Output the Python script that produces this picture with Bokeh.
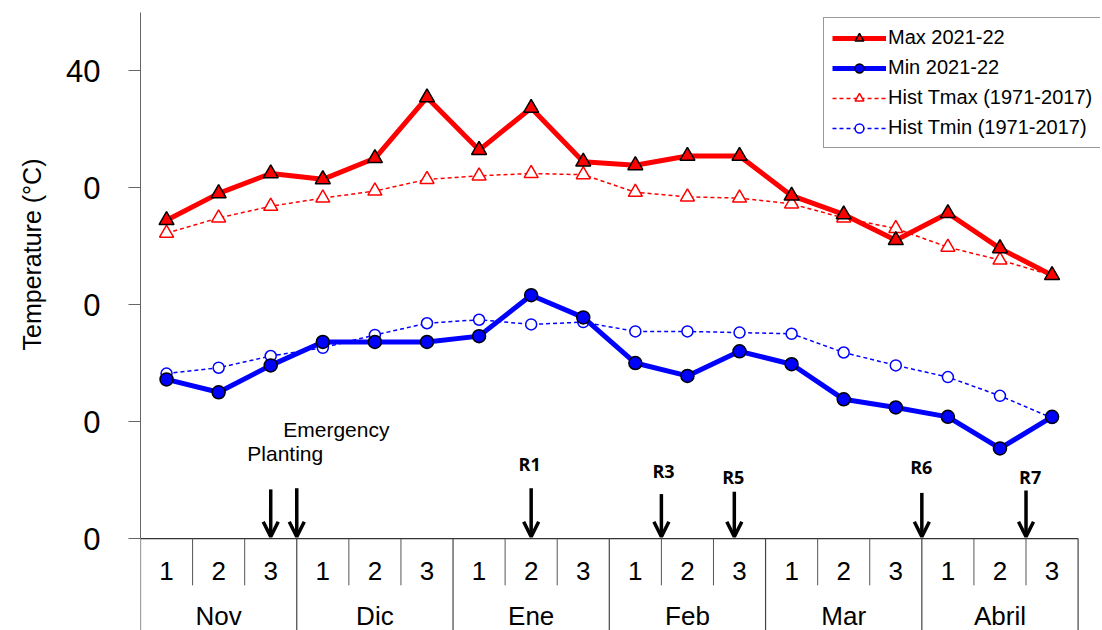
from bokeh.plotting import figure
from bokeh.models import (Range1d, FixedTicker, Arrow, OpenHead, Legend, LegendItem,
                          Label, ColumnDataSource, Title)
from bokeh.core.properties import value
from bokeh.embed import file_html
from bokeh.resources import INLINE

# ---------------- data ----------------
months = ["Nov", "Dic", "Ene", "Feb", "Mar", "Abril"]
decades = ["1", "2", "3"]

max_2122 = [27.2, 29.5, 31.2, 30.7, 32.5, 37.7, 33.2, 36.8, 32.2,
            31.9, 32.7, 32.7, 29.3, 27.7, 25.5, 27.8, 24.8, 22.5]
min_2122 = [13.6, 12.5, 14.8, 16.8, 16.8, 16.8, 17.3, 20.8, 18.9,
            15.0, 13.9, 16.0, 14.9, 11.9, 11.2, 10.4, 7.7, 10.4]
hist_tmax = [26.1, 27.4, 28.4, 29.1, 29.7, 30.7, 31.0, 31.2, 31.1,
             29.6, 29.2, 29.1, 28.6, 27.4, 26.5, 24.9, 23.8, 22.5]
hist_tmin = [14.1, 14.6, 15.6, 16.3, 17.4, 18.4, 18.7, 18.3, 18.5,
             17.7, 17.7, 17.6, 17.5, 15.9, 14.8, 13.8, 12.2, 10.3]

y_ticks = [0, 10, 20, 30, 40]
y_tick_labels = ["0", "0", "0", "0", "40"]

stages = ["Planting", "Emergency", "R1", "R3", "R5", "R6", "R7"]
stage_x = [2.5, 3.0, 7.5, 10.0, 11.4, 15.0, 17.0]   # position on the decade axis

# ---------------- layout ----------------
n = len(months) * len(decades)
xc = [i + 0.5 for i in range(n)]
font = "Liberation Sans"
y_top = 44.96
y_bottom = -7.86
row1_bottom = -4.0

p = figure(width=1102, height=630, x_range=Range1d(0, n + 0.43), y_range=Range1d(y_bottom, y_top),
           output_backend="svg", toolbar_location=None, x_axis_location=None,
           min_border_left=140, min_border_right=2, min_border_top=12, min_border_bottom=0)
p.outline_line_color = None
p.xgrid.visible = False
p.ygrid.visible = False

ax = p.yaxis[0]
ax.ticker = FixedTicker(ticks=y_ticks)
ax.major_label_overrides = {t: l for t, l in zip(y_ticks, y_tick_labels)}
ax.bounds = (0, y_top)
ax.minor_tick_line_color = None
ax.major_tick_in = 0
ax.major_tick_out = 12
ax.axis_line_color = "#666666"
ax.major_tick_line_color = "#666666"
ax.major_label_text_font = font
ax.major_label_text_font_size = "31px"
ax.major_label_text_color = "black"
ax.major_label_standoff = 28

# y-axis title, placed along the upper part of the axis as in the original
p.add_layout(Title(text="Temperature (°C)", align="left", offset=280, vertical_align="top",
                   standoff=32, text_font=font, text_font_size="25px",
                   text_font_style="normal", text_color="black"), "left")

# ---------------- category table below the plot ----------------
p.segment(x0=[0], y0=[0], x1=[n], y1=[0], line_color="#333333", line_width=1.2)
dec_bounds = [i for i in range(1, n) if i % 3 != 0]
p.segment(x0=dec_bounds, y0=[0] * len(dec_bounds), x1=dec_bounds, y1=[row1_bottom] * len(dec_bounds),
          line_color="#555555", line_width=1)
mon_bounds = list(range(0, n + 1, 3))
p.segment(x0=mon_bounds, y0=[0] * len(mon_bounds), x1=mon_bounds, y1=[y_bottom] * len(mon_bounds),
          line_color="#444444", line_width=1.2)
p.text(x=xc, y=[-2.74] * n, text=decades * len(months), text_align="center", text_baseline="middle",
       text_font=value(font), text_font_size="26px", text_color="black")
p.text(x=[3 * i + 1.5 for i in range(len(months))], y=[-6.6] * len(months), text=months,
       text_align="center", text_baseline="middle",
       text_font=value(font), text_font_size="26px", text_color="black")

# ---------------- series ----------------
src = ColumnDataSource(dict(x=xc, mx=max_2122, mn=min_2122, hx=hist_tmax, hn=hist_tmin))

l_hx = p.line("x", "hx", source=src, line_color="red", line_width=1.5, line_dash="4 3")
s_hx = p.scatter("x", "hx", source=src, marker="triangle", size=14, line_color="red",
                 line_width=1.5, fill_color="white")
l_hn = p.line("x", "hn", source=src, line_color="blue", line_width=1.5, line_dash="4 3")
s_hn = p.scatter("x", "hn", source=src, marker="circle", size=11, line_color="blue",
                 line_width=1.5, fill_color="white")
l_mx = p.line("x", "mx", source=src, line_color="red", line_width=5)
s_mx = p.scatter("x", "mx", source=src, marker="triangle", size=15, line_color="black",
                 line_width=1.5, fill_color="red")
l_mn = p.line("x", "mn", source=src, line_color="blue", line_width=5)
s_mn = p.scatter("x", "mn", source=src, marker="circle", size=13, line_color="black",
                 line_width=1.5, fill_color="blue")

legend = Legend(items=[
    LegendItem(label="Max 2021-22", renderers=[l_mx, s_mx]),
    LegendItem(label="Min 2021-22", renderers=[l_mn, s_mn]),
    LegendItem(label="Hist Tmax (1971-2017)", renderers=[l_hx, s_hx]),
    LegendItem(label="Hist Tmin (1971-2017)", renderers=[l_hn, s_hn]),
], location=(683, 482), label_text_font=font, label_text_font_size="20px",
    label_text_color="black", border_line_color="#333333", border_line_width=1,
    background_fill_alpha=1, padding=8, spacing=7, margin=0, glyph_width=54, glyph_height=22,
    label_height=22, label_standoff=2)
p.add_layout(legend)

# ---------------- growth-stage arrows ----------------
arrow_top = [4.2, 4.3, 4.3, 3.8, 4.0, 3.9, 4.1]
label_pos = [(2.05, 7.3, "left"), (2.74, 9.3, "left"), (7.47, 6.4, "center"), (10.04, 5.8, "center"),
             (11.38, 5.3, "center"), (14.99, 6.1, "center"), (17.08, 5.3, "center")]
for name, sx, top, (lx, ly, al) in zip(stages, stage_x, arrow_top, label_pos):
    p.add_layout(Arrow(x_start=sx, y_start=top, x_end=sx, y_end=0.15, line_width=3.5,
                       line_color="black",
                       end=OpenHead(size=15, line_width=3.5, line_color="black")))
    bold = name.startswith("R")
    p.add_layout(Label(x=lx, y=ly, text=name, text_align=al, text_baseline="middle",
                       text_font="Open Sans" if bold else font,
                       text_font_size="18px" if bold else "21px",
                       text_font_style="bold" if bold else "normal", text_color="black"))

open("out.html", "w").write(file_html(p, INLINE))
